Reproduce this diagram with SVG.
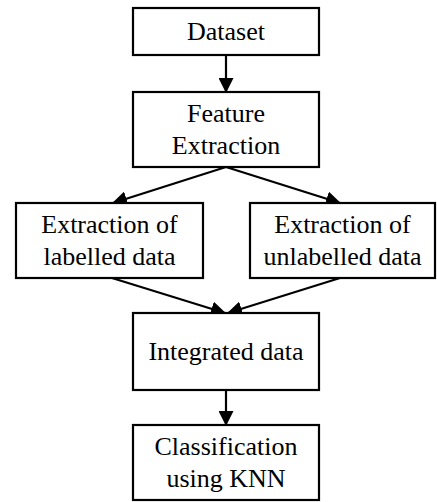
<svg xmlns="http://www.w3.org/2000/svg" width="437" height="502" viewBox="0 0 437 502">
<defs>
<style>
.box{fill:#fff;stroke:#000;stroke-width:2.2}
.t{font-family:'Liberation Serif','Times New Roman',serif;font-size:26px;fill:#000;text-anchor:middle}
.c{stroke:#000;stroke-width:2.2;fill:none;marker-end:url(#ah)}
</style>
<marker id="ah" markerWidth="15" markerHeight="15" viewBox="0 0 15 15" refX="14" refY="7.5" orient="auto" markerUnits="userSpaceOnUse">
<path d="M0,0 L15,7.5 L0,15 Z" fill="#000"/>
</marker>
</defs>
<rect width="437" height="502" fill="#fff"/>
<g id="connectors">
<line class="c" x1="226" y1="55" x2="226" y2="92"/>
<line class="c" x1="226" y1="167" x2="113" y2="203"/>
<line class="c" x1="226" y1="167" x2="340" y2="203"/>
<line class="c" x1="112" y1="278" x2="225" y2="313"/>
<line class="c" x1="340" y1="278" x2="228" y2="313"/>
<line class="c" x1="226" y1="390" x2="226" y2="425"/>
</g>
<g id="dataset">
<rect class="box" x="133" y="8" width="186" height="47"/>
<text class="t" x="226" y="40">Dataset</text>
</g>
<g id="feature">
<rect class="box" x="133" y="92" width="186" height="75"/>
<text class="t" x="226" y="122">Feature</text>
<text class="t" x="226" y="154">Extraction</text>
</g>
<g id="labelled">
<rect class="box" x="16" y="203" width="187" height="75"/>
<text class="t" x="109.5" y="233">Extraction of</text>
<text class="t" x="109.5" y="265">labelled data</text>
</g>
<g id="unlabelled">
<rect class="box" x="250" y="203" width="185" height="75"/>
<text class="t" x="342.5" y="233">Extraction of</text>
<text class="t" x="342.5" y="265">unlabelled data</text>
</g>
<g id="integrated">
<rect class="box" x="133" y="313" width="186" height="77"/>
<text class="t" x="226" y="360">Integrated data</text>
</g>
<g id="classification">
<rect class="box" x="133" y="425" width="186" height="75"/>
<text class="t" x="226" y="455">Classification</text>
<text class="t" x="226" y="487">using KNN</text>
</g>
</svg>
